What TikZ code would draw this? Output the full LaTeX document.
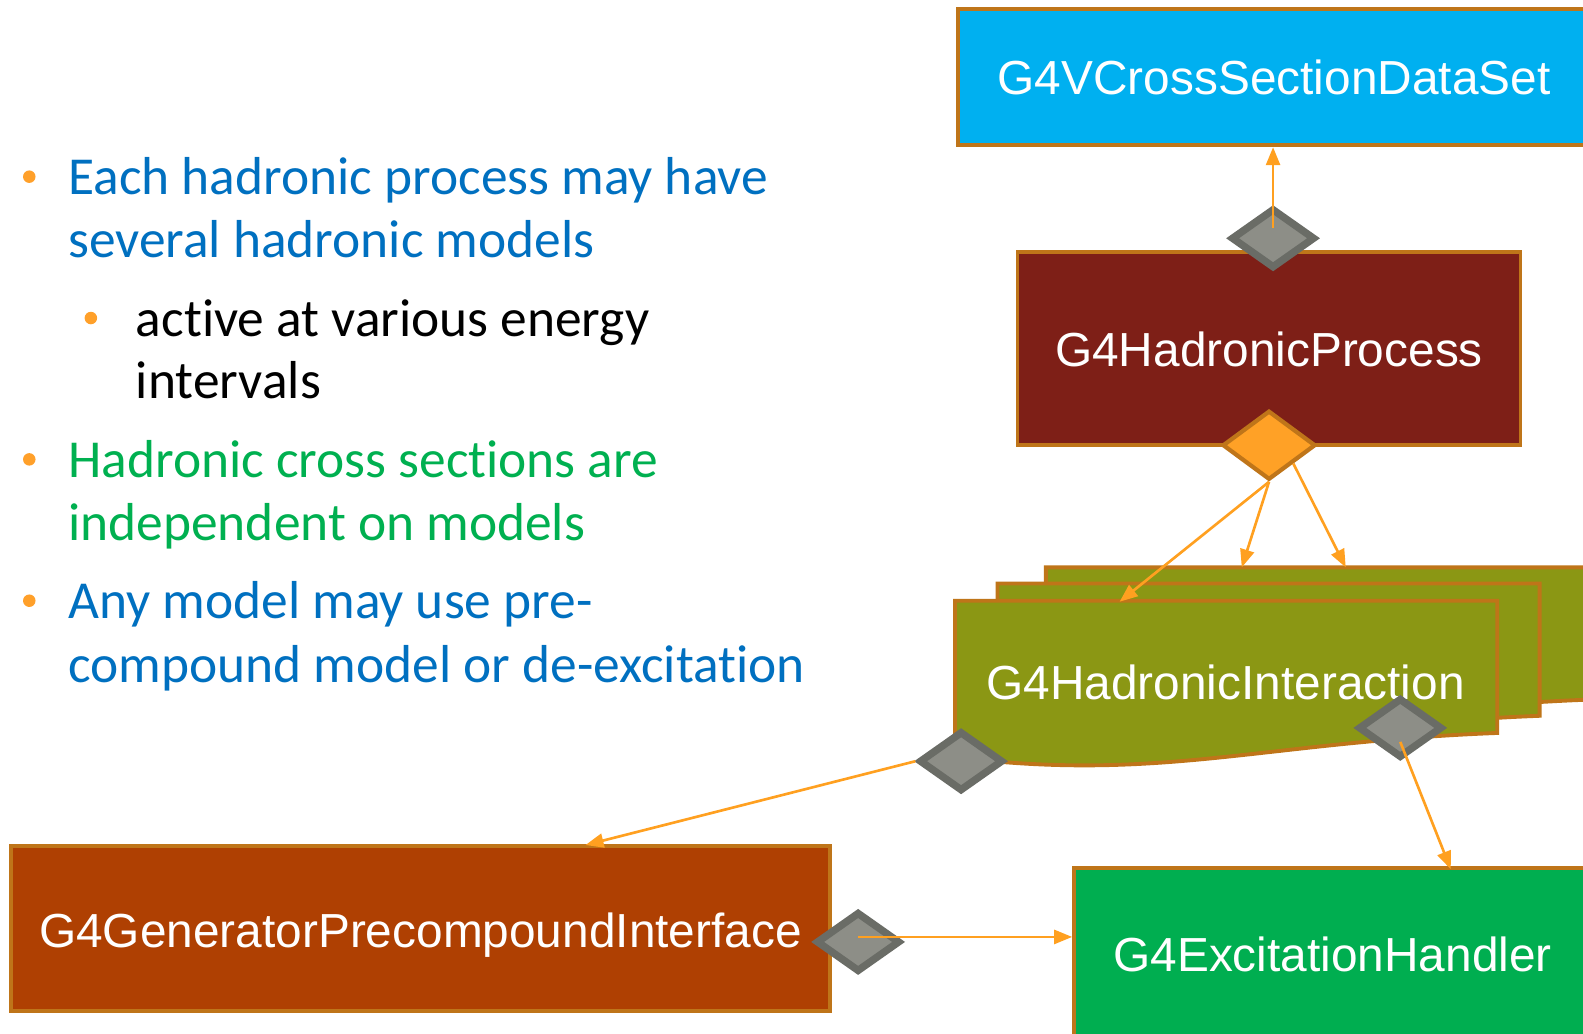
\documentclass[tikz,border=0pt]{standalone}
\usepackage{fontspec}
\setmainfont{Liberation Sans}
\newfontfamily\calibri[Ligatures=NoCommon]{Carlito}
\usepackage{tikz}
\usetikzlibrary{shapes.geometric}
\usetikzlibrary{arrows.meta}
\definecolor{boxedge}{HTML}{BF7519}
\definecolor{cyanbox}{HTML}{00B0F0}
\definecolor{procbox}{HTML}{7E1F17}
\definecolor{interbox}{HTML}{8B9714}
\definecolor{genbox}{HTML}{AF4002}
\definecolor{excbox}{HTML}{00AE50}
\definecolor{aggfill}{HTML}{8D8E87}
\definecolor{aggedge}{HTML}{6A6C66}
\definecolor{ownfill}{HTML}{FFA126}
\definecolor{linkc}{HTML}{FFA020}
\definecolor{bulletc}{HTML}{FFA02A}
\definecolor{blueT}{HTML}{0070C0}
\definecolor{greenT}{HTML}{00B050}
\tikzstyle{classbox}=[draw=boxedge, line width=1.1pt, text=white,
font=\fontsize{13.6}{16}\selectfont, inner sep=0pt, text depth=0pt]
\tikzstyle{agg}=[diamond, draw=aggedge, fill=aggfill, line width=2.1pt,
minimum width=8.4mm, minimum height=6.0mm, inner sep=0pt]
\tikzstyle{own}=[diamond, draw=boxedge, fill=ownfill, line width=1.2pt,
minimum width=9.3mm, minimum height=6.9mm, inner sep=0pt]
\tikzstyle{link}=[draw=linkc, line width=0.75pt, -{Triangle[length=1.8mm,width=1.4mm]}]
\tikzstyle{txt}=[anchor=base west, inner sep=0pt, font=\calibri\fontsize{15.2}{18}\selectfont]
\tikzstyle{bul}=[circle, fill=bulletc, inner sep=0pt, minimum size=1.25mm]

\begin{document}
\begin{tikzpicture}[x=0.1009566mm, y=-0.1009566mm]
	\fill[white] (0,0) rectangle (1568,1024);
	\clip (0,0) rectangle (1568,1024);

	% bullet text
	\node[bul] (b1) at (29,175) {};
	\node[txt, text=blueT] (l1) at (67,193) {Each hadronic process may have};
	\node[txt, text=blueT] (l2) at (67,255) {several hadronic models};
	\node[bul] (b2) at (90,315) {};
	\node[txt] (l3) at (134,333) {active at various energy};
	\node[txt] (l4) at (134,395) {intervals};
	\node[bul] (b3) at (29,455) {};
	\node[txt, text=greenT] (l5) at (67,473) {Hadronic cross sections are};
	\node[txt, text=greenT] (l6) at (67,535) {independent on models};
	\node[bul] (b4) at (29,595) {};
	\node[txt, text=blueT] (l7) at (67,613) {Any model may use pre-};
	\node[txt, text=blueT] (l8) at (67,676) {compound model or de-excitation};

	% classes
	\node[classbox, fill=cyanbox, minimum width=63.2mm, minimum height=13.6mm] (xsec) at (1262,76.5) {G4VCrossSectionDataSet};
	\node[classbox, fill=procbox, minimum width=50.3mm, minimum height=19.3mm] (proc) at (1257,345.5) {G4HadronicProcess};
	\foreach \dx/\dy in {90/-33, 42/-17, 0/0}
		\filldraw[fill=interbox, draw=boxedge, line width=1.1pt, shift={(\dx,\dy)}]
			(946,595) -- (1483,595) -- (1483,726) .. controls (1250,735) and (1150,775) .. (946,750) -- cycle;
	\node[text=white, font=\fontsize{13.6}{16}\selectfont, text depth=0pt] (inter) at (1214,676) {G4HadronicInteraction};
	\node[classbox, fill=genbox, minimum width=81.9mm, minimum height=16.5mm] (gen) at (416.5,919.5) {\raisebox{-0.3mm}{G4GeneratorPrecompoundInterface}};
	\node[classbox, fill=excbox, minimum width=51.7mm, minimum height=17.2mm] (exc) at (1320,945) {G4ExcitationHandler};

	% diamonds
	\node[agg] (dxsec) at (1261,236) {};
	\node[own] (dproc) at (1257,441) {};
	\node[agg] (dleft) at (952,754) {};
	\node[agg] (dright) at (1387,721) {};
	\node[agg] (dgen) at (850,933) {};

	\coordinate (c1) at (1109,596);
	\coordinate (c2) at (1230,562);
	\coordinate (c3) at (1333,562);
	\coordinate (c4) at (580,837);
	\coordinate (c5) at (1437,861);

	\draw[link] ([yshift=1mm]dxsec.center) to (dxsec.center |- xsec.south);
	\draw[link] (dproc.south) to (c1);
	\draw[link] (dproc.south) to (c2);
	\draw[link] (dproc.south east) to (c3);
	\draw[link] (dleft.west) to (c4);
	\draw[link] ([yshift=-1.4mm]dright.center) to (c5);
	\draw[link] ([yshift=0.5mm]dgen.center) to ([yshift=0.5mm]dgen.center -| exc.west);
\end{tikzpicture}
\end{document}
